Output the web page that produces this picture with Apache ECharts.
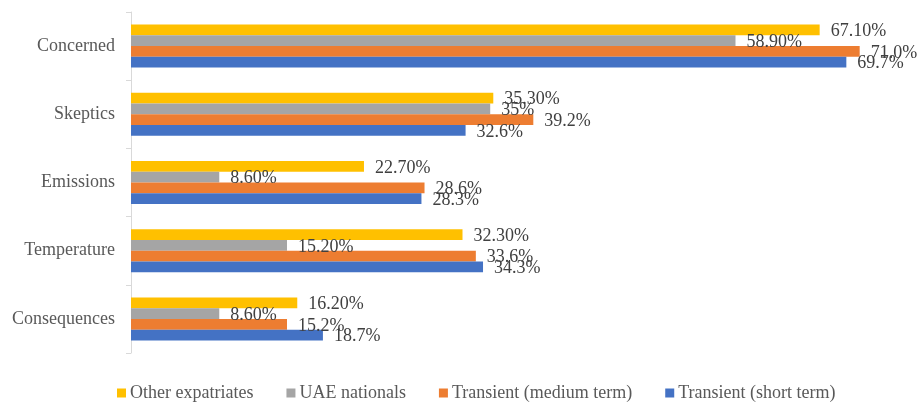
<!DOCTYPE html>
<html>
<head>
<meta charset="utf-8">
<script src="https://cdn.jsdelivr.net/npm/echarts@6/dist/echarts.min.js"></script>
<style>html,body{margin:0;padding:0;background:#fff;}#c{width:921px;height:405px;}</style>
</head>
<body>
<div id="c"></div>
<script>
// Categories listed bottom to top (ECharts category y axis starts at bottom)
const categories = ['Consequences', 'Temperature', 'Emissions', 'Skeptics', 'Concerned'];

const shortTerm = [18.7, 34.3, 28.3, 32.6, 69.7];
const shortTermLabels = ['18.7%', '34.3%', '28.3%', '32.6%', '69.7%'];

const mediumTerm = [15.2, 33.6, 28.6, 39.2, 71.0];
const mediumTermLabels = ['15.2%', '33.6%', '28.6%', '39.2%', '71.0%'];

const uaeNationals = [8.6, 15.2, 8.6, 35.0, 58.9];
const uaeNationalsLabels = ['8.60%', '15.20%', '8.60%', '35%', '58.90%'];

const otherExpats = [16.2, 32.3, 22.7, 35.3, 67.1];
const otherExpatsLabels = ['16.20%', '32.30%', '22.70%', '35.30%', '67.10%'];

const legendOrder = ['Other expatriates', 'UAE nationals', 'Transient (medium term)', 'Transient (short term)'];

const FONT = '"Liberation Serif", "Times New Roman", serif';

function mkSeries(name, data, labels, color) {
  return {
    name: name,
    type: 'bar',
    data: data,
    barGap: '0%',
    barCategoryGap: '37%',
    itemStyle: { color: color },
    label: {
      show: true,
      position: 'right',
      distance: 11,
      offset: [0, 1.5],
      fontFamily: FONT,
      fontSize: 18,
      color: '#404040',
      formatter: function (p) { return labels[p.dataIndex]; }
    },
    emphasis: { disabled: true },
    animation: false
  };
}

const chart = echarts.init(document.getElementById('c'), null, { renderer: 'canvas' });
chart.setOption({
  animation: false,
  grid: { left: 131, right: 10, top: 12, bottom: 52, containLabel: false },
  xAxis: {
    type: 'value', min: 0, max: 76, show: false
  },
  yAxis: {
    type: 'category',
    data: categories,
    axisLine: { show: true, lineStyle: { color: '#d9d9d9', width: 1 } },
    axisTick: { show: true, length: 5, lineStyle: { color: '#d9d9d9' } },
    axisLabel: { fontFamily: FONT, fontSize: 18, color: '#595959', margin: 16 },
    splitLine: { show: false }
  },
  legend: {
    data: legendOrder,
    top: 379,
    left: 112,
    itemWidth: 9,
    itemHeight: 9,
    itemGap: 33,
    icon: 'rect',
    textStyle: { fontFamily: FONT, fontSize: 18, color: '#595959', padding: [0, 0, 0, -1] }
  },
  series: [
    mkSeries('Other expatriates', otherExpats, otherExpatsLabels, '#FFC000'),
    mkSeries('UAE nationals', uaeNationals, uaeNationalsLabels, '#A5A5A5'),
    mkSeries('Transient (medium term)', mediumTerm, mediumTermLabels, '#ED7D31'),
    mkSeries('Transient (short term)', shortTerm, shortTermLabels, '#4472C4')
  ]
});
</script>
</body>
</html>
